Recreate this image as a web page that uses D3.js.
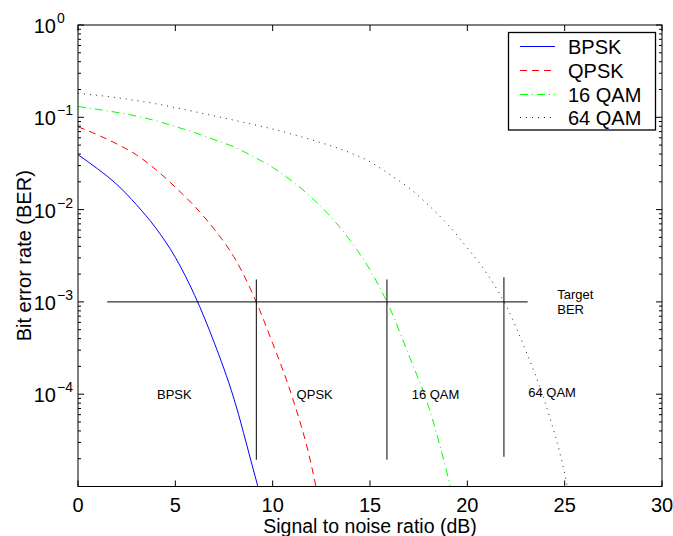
<!DOCTYPE html>
<html><head><meta charset="utf-8">
<script src="https://cdn.jsdelivr.net/npm/d3@7"></script>
<style>body{margin:0;background:#fff}svg{display:block;font-family:"Liberation Sans",Arial,Helvetica,sans-serif}</style>
</head><body><svg id="c" width="673" height="536"></svg>
<script>
// ---- data ----
const bpskSNR=[0,1,2,3,4,5,6,7,8,9,9.24];
const bpskBER=[3.94e-2,2.77e-2,1.87e-2,1.13e-2,6.30e-3,3.04e-3,1.17e-3,3.61e-4,9.08e-5,1.54e-5,1.0e-5];
const qpskSNR=[0,1,2,3,4,5,6,7,8,9,10,11,12,12.22];
const qpskBER=[7.91e-2,6.46e-2,5.14e-2,3.92e-2,2.71e-2,1.75e-2,1.08e-2,6.12e-3,3.10e-3,1.19e-3,3.56e-4,9.40e-5,1.66e-5,1.0e-5];
const qam16SNR=[0,1,2,3,4,5,6,7,8,9,10,11,12,13,14,15,16,17,18,19,19.13];
const qam16BER=[1.31e-1,1.22e-1,1.13e-1,1.03e-1,9.16e-2,7.94e-2,6.82e-2,5.73e-2,4.79e-2,3.76e-2,2.86e-2,2.03e-2,1.35e-2,8.30e-3,4.59e-3,2.22e-3,8.71e-4,2.63e-4,7.43e-5,1.29e-5,1.0e-5];
const qam64SNR=[0,2,4,6,8,10,12,14,15,16,17,18,19,20,21,22,23,24,25,25.14];
const qam64BER=[1.82e-1,1.63e-1,1.40e-1,1.15e-1,9.31e-2,7.46e-2,5.70e-2,4.11e-2,3.30e-2,2.41e-2,1.72e-2,1.12e-2,6.87e-3,3.85e-3,2.03e-3,9.0e-4,2.96e-4,8.04e-5,1.38e-5,1.0e-5];
const seriesNames=["BPSK","QPSK","16 QAM","64 QAM"];
const xTicks=[0,5,10,15,20,25,30];
const yTickExp=[0,-1,-2,-3,-4];
const targetBER=1e-3;
const targetSpan=[1.5,23.1];
const markerSNR=[9.16,15.87,21.88];
const markerTop=[1.75e-3,1.75e-3,1.85e-3];
const markerBottom=[1.95e-5,1.95e-5,2.1e-5];
const noteText=["BPSK","QPSK","16 QAM","64 QAM"];
const noteSNR=[4.06,11.23,17.14,23.13];
const noteBER=[1e-4,1e-4,1e-4,1.05e-4];
const targetNote=["Target","BER"];
const targetNoteSNR=24.62;

// ---- layout ----
const svg=d3.select("#c");
const L=78,R=662,T=25,B=486.5;
const x=d3.scaleLinear().domain([0,30]).range([L,R]);
const y=d3.scaleLog().domain([1e-5,1]).range([B,T]);

const styles=[
  {color:"#0000ff",dash:null},
  {color:"#ff0000",dash:"7,5"},
  {color:"#00ff00",dash:"8,4,1,4"},
  {color:"#222",dash:"1,5"}
];
const data=[
  d3.zip(bpskSNR,bpskBER),
  d3.zip(qpskSNR,qpskBER),
  d3.zip(qam16SNR,qam16BER),
  d3.zip(qam64SNR,qam64BER)
];

svg.append("defs").append("clipPath").attr("id","clip")
  .append("rect").attr("x",L).attr("y",T).attr("width",R-L).attr("height",B-T);

const line=d3.line().x(d=>x(d[0])).y(d=>y(d[1])).curve(d3.curveMonotoneX);
const plot=svg.append("g").attr("clip-path","url(#clip)");
data.forEach((d,i)=>{
  plot.append("path").attr("d",line(d)).attr("fill","none")
    .attr("stroke",styles[i].color).attr("stroke-width",1)
    .attr("stroke-dasharray",styles[i].dash);
});

// target line and markers
svg.append("line").attr("x1",x(targetSpan[0])).attr("x2",x(targetSpan[1]))
  .attr("y1",y(targetBER)).attr("y2",y(targetBER)).attr("stroke","#000").attr("stroke-width",1);
markerSNR.forEach((s,i)=>{
  svg.append("line").attr("x1",x(s)).attr("x2",x(s))
    .attr("y1",y(markerTop[i])).attr("y2",y(markerBottom[i])).attr("stroke","#000").attr("stroke-width",1);
});
noteText.forEach((t,i)=>{
  svg.append("text").attr("x",x(noteSNR[i])).attr("y",y(noteBER[i])).attr("dy","0.35em")
    .attr("font-size",13).text(t);
});
const tn=svg.append("text").attr("x",x(targetNoteSNR)).attr("y",y(targetBER)).attr("font-size",13);
tn.append("tspan").attr("x",x(targetNoteSNR)).attr("dy","-0.2em").text(targetNote[0]);
tn.append("tspan").attr("x",x(targetNoteSNR)).attr("dy","1.1em").text(targetNote[1]);

// axes box
svg.append("rect").attr("x",L).attr("y",T).attr("width",R-L).attr("height",B-T)
  .attr("fill","none").attr("stroke","#000").attr("stroke-width",1);

// x ticks (inside, bottom & top)
const ax=svg.append("g");
xTicks.forEach(v=>{
  ax.append("line").attr("x1",x(v)).attr("x2",x(v)).attr("y1",B).attr("y2",B-6).attr("stroke","#000");
  ax.append("line").attr("x1",x(v)).attr("x2",x(v)).attr("y1",T).attr("y2",T+6).attr("stroke","#000");
  ax.append("text").attr("x",x(v)).attr("y",B+25).attr("text-anchor","middle").attr("font-size",20).text(v);
});
// y ticks (log, major + minor, both sides)
for(let e=-5;e<0;e++){
  for(let k=2;k<=9;k++){
    const v=k*Math.pow(10,e), py=y(v);
    ax.append("line").attr("x1",L).attr("x2",L+3).attr("y1",py).attr("y2",py).attr("stroke","#000");
    ax.append("line").attr("x1",R).attr("x2",R-3).attr("y1",py).attr("y2",py).attr("stroke","#000");
  }
}
yTickExp.forEach(e=>{
  const py=y(Math.pow(10,e));
  ax.append("line").attr("x1",L).attr("x2",L+6).attr("y1",py).attr("y2",py).attr("stroke","#000");
  ax.append("line").attr("x1",R).attr("x2",R-6).attr("y1",py).attr("y2",py).attr("stroke","#000");
  ax.append("text").attr("x",56).attr("y",py+8).attr("text-anchor","end").attr("font-size",20).text("10");
  ax.append("text").attr("x",57).attr("y",py-2).attr("font-size",14).text(e===0?"0":"\u2212"+(-e));
});

// axis labels
svg.append("text").attr("x",(L+R)/2).attr("y",533).attr("text-anchor","middle")
  .attr("font-size",19.5).text("Signal to noise ratio (dB)");
svg.append("text").attr("transform",`translate(31,${(T+B)/2}) rotate(-90)`)
  .attr("text-anchor","middle").attr("font-size",20).text("Bit error rate (BER)");

// legend
const lg=svg.append("g");
lg.append("rect").attr("x",508.5).attr("y",32.5).attr("width",147).attr("height",97.5)
  .attr("fill","#fff").attr("stroke","#000").attr("stroke-width",1.3);
const rowY=[46.5,70.5,94.5,117.5];
seriesNames.forEach((n,i)=>{
  lg.append("line").attr("x1",520).attr("x2",555).attr("y1",rowY[i]).attr("y2",rowY[i])
    .attr("stroke",styles[i].color).attr("stroke-width",1).attr("stroke-dasharray",styles[i].dash);
  lg.append("text").attr("x",568).attr("y",rowY[i]).attr("dy","0.36em").attr("font-size",20).text(n);
});
</script></body></html>
